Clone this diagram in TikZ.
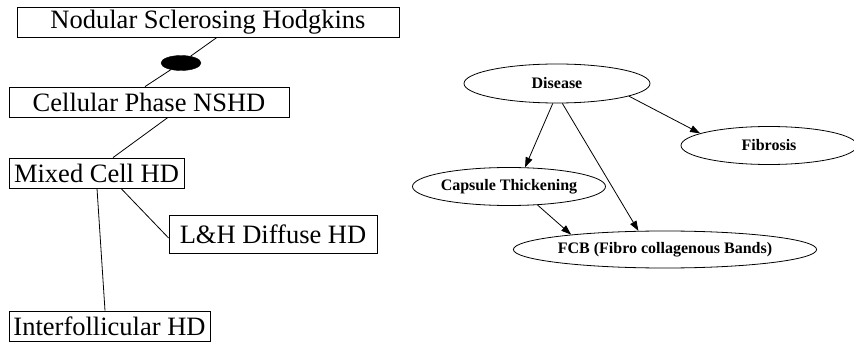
\documentclass[tikz,border=0pt]{standalone}
\usepackage{fontspec}
\setmainfont{Liberation Serif}
\usetikzlibrary{shapes.geometric,arrows.meta}
\tikzset{
  rbox/.style={draw, line width=0.8pt, inner sep=0pt, font=\fontsize{26.5}{28}\selectfont},
  oval/.style={draw, ellipse, line width=0.8pt, inner sep=0pt, font=\bfseries\fontsize{16}{18}\selectfont},
  link/.style={line width=0.8pt},
  arr/.style={line width=0.8pt, -{Triangle[length=10pt,width=7pt]}},
}
\begin{document}
\begin{tikzpicture}[x=1pt,y=-1pt]
\useasboundingbox (0,0) rectangle (854,342);
% left tree
\node[rbox, minimum width=382pt, minimum height=30pt] (nod) at (208,22) {Nodular Sclerosing Hodgkins};
\node[draw, ellipse, fill=black, inner sep=0pt, minimum width=40pt, minimum height=15pt] (dot) at (181,63) {};
\node[rbox, minimum width=280pt, minimum height=30pt] (cell) at (149,102) {Cellular Phase NSHD};
\node[rbox, minimum width=175pt, minimum height=30pt] (mix) at (96.5,173) {Mixed Cell HD};
\node[rbox, minimum width=208pt, minimum height=38pt] (lh) at (273,234) {L\&H Diffuse HD};
\node[rbox, minimum width=201pt, minimum height=30pt] (inter) at (109.5,326) {Interfollicular HD};
\draw[link] ([xshift=9pt]nod.south) -- (dot) -- ([xshift=-4pt]cell.north);
\draw[link] ([xshift=19pt]cell.south) -- ([xshift=16.5pt]mix.north);
\draw[link] ([xshift=0.5pt]mix.south) -- ([xshift=-4.5pt]inter.north);
\draw[link] ([xshift=24.5pt]mix.south) -- ([yshift=-4pt]lh.west);
% right graph
\node[oval, minimum width=186pt, minimum height=39pt] (dis) at (557,83.5) {Disease};
\node[oval, minimum width=176pt, minimum height=38pt] (fib) at (769,145.5) {Fibrosis};
\node[oval, minimum width=186pt, minimum height=38pt] (cap) at (509,186.5) {Capsule Thickening};
\node[oval, minimum width=290pt, minimum height=37pt] (fcb) at (665,249.5) {FCB (Fibro collagenous Bands)};
\draw[arr] (dis.258) -- (cap.50);
\draw[arr] (dis.285) -- (fcb.145);
\draw[arr] (dis.-10) -- (fib.170);
\draw[arr] (cap.-33) -- (fcb.171);
\end{tikzpicture}
\end{document}
